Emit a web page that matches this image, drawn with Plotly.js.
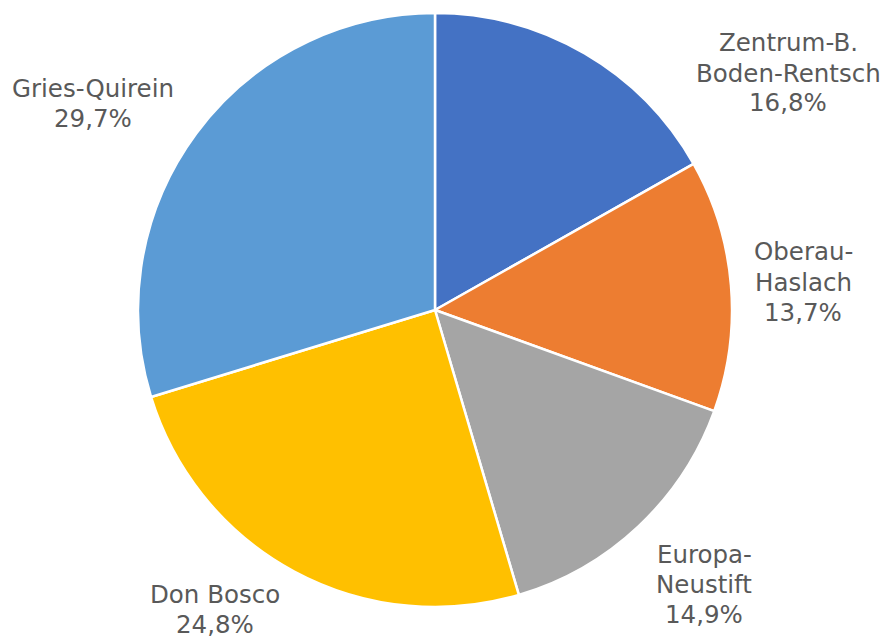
<!DOCTYPE html>
<html>
<head>
<meta charset="utf-8">
<script src="https://cdn.plot.ly/plotly-3.0.1.min.js"></script>
<style>html,body{margin:0;padding:0;background:#fff;}#chart{width:885px;height:641px;}</style>
</head>
<body>
<div id="chart"></div>
<script>
const categories = ["Zentrum-B. Boden-Rentsch", "Oberau-Haslach", "Europa-Neustift", "Don Bosco", "Gries-Quirein"];
const labelLines = [["Zentrum-B.", "Boden-Rentsch"], ["Oberau-", "Haslach"], ["Europa-", "Neustift"], ["Don Bosco"], ["Gries-Quirein"]];
const shares = [16.8, 13.7, 14.9, 24.8, 29.7];
const colors = ["#4472C4", "#ED7D31", "#A5A5A5", "#FFC000", "#5B9BD5"];

// label block centres (pixels in 885x641 canvas)
const labelPos = [[788, 73], [803, 282], [704, 584], [215, 609], [93, 103]];
const lineGap = 30;

const W = 885, H = 641;
const cx = 435, cy = 310, r = 297;

const trace = {
  type: "pie",
  labels: categories,
  values: shares,
  sort: false,
  direction: "clockwise",
  rotation: 0,
  textinfo: "none",
  hoverinfo: "label+percent",
  marker: { colors: colors, line: { color: "#ffffff", width: 2.5 } },
  domain: { x: [(cx - r) / W, (cx + r) / W], y: [1 - (cy + r) / H, 1 - (cy - r) / H] },
  showlegend: false
};

const annotations = [];
labelLines.forEach((lines, i) => {
  const all = lines.concat([shares[i].toFixed(1).replace(".", ",") + "%"]);
  const n = all.length;
  all.forEach((t, j) => {
    const py = labelPos[i][1] + (j - (n - 1) / 2) * lineGap;
    annotations.push({
      text: t,
      x: labelPos[i][0] / W,
      y: 1 - py / H,
      xref: "paper", yref: "paper",
      xanchor: "center", yanchor: "middle",
      showarrow: false,
      align: "center",
      font: { family: "DejaVu Sans, Verdana, sans-serif", size: 24.5, color: "#595959" }
    });
  });
});

const layout = {
  width: W, height: H,
  margin: { l: 0, r: 0, t: 0, b: 0 },
  paper_bgcolor: "#ffffff",
  plot_bgcolor: "#ffffff",
  annotations: annotations,
  showlegend: false
};

Plotly.newPlot("chart", [trace], layout, { displayModeBar: false, staticPlot: true });
</script>
</body>
</html>
